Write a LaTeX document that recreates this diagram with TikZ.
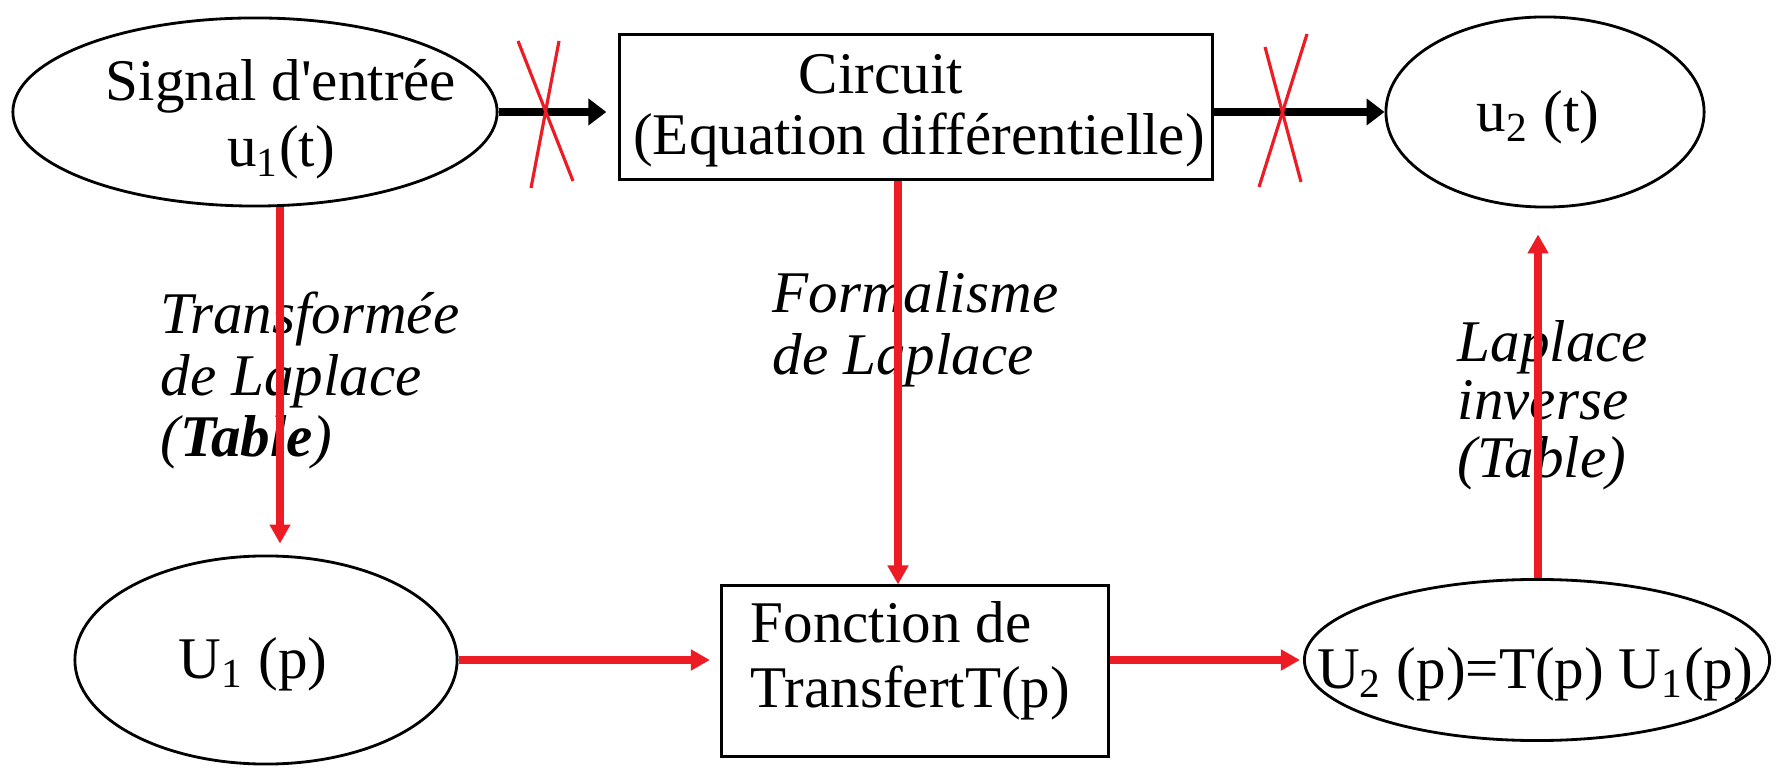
\documentclass[tikz,border=0pt]{standalone}
\usepackage{fontspec}
\setmainfont{Liberation Serif}
\usetikzlibrary{shapes.geometric,arrows.meta}
\definecolor{flowred}{RGB}{237,28,36}
\tikzset{
  bubble/.style={draw,ellipse,line width=0.8pt,inner sep=0pt},
  block/.style={draw,rectangle,line width=0.85pt,inner sep=0pt},
  txt/.style={inner sep=0pt,align=center,font=\fontsize{16.8}{17.6}\selectfont},
  lbl/.style={inner sep=0pt,align=left,anchor=base west,font=\fontsize{16.8}{17.6}\selectfont\itshape},
  blackarrow/.style={line width=2.3pt,-{Triangle[length=0.18cm,width=0.26cm]}},
  redarrow/.style={flowred,line width=2.1pt,-{Triangle[length=0.19cm,width=0.2cm]}},
  strike/.style={flowred,line width=0.9pt},
}
\begin{document}
\begin{tikzpicture}[x=0.01cm,y=-0.01cm]
\useasboundingbox (0,0) rectangle (1780,777);
\node[bubble,minimum width=4.84cm,minimum height=1.88cm] (sig) at (255,112) {};
\node[block,minimum width=5.92cm,minimum height=1.44cm] (circ) at (916,107) {};
\node[bubble,minimum width=3.18cm,minimum height=1.9cm] (u2t) at (1545,112) {};
\node[bubble,minimum width=3.82cm,minimum height=2.08cm] (U1p) at (266,660) {};
\node[block,minimum width=3.87cm,minimum height=1.7cm] (fct) at (915,671) {};
\node[bubble,minimum width=4.65cm,minimum height=1.61cm] (U2p) at (1537,660) {};

\node[txt,anchor=base,font=\fontsize{16.8}{19}\selectfont] (sigtxt) at (281,167) {Signal d\textquotesingle entrée\\u\textsubscript{1}(t)};
\node[txt,anchor=base] (circtxt) at (919,155) {Circuit\hspace*{0.76cm}\\(Equation différentielle)};
\node[txt,anchor=base] (u2ttxt) at (1538,132) {u\textsubscript{2} (t)};
\node[txt,anchor=base] (U1ptxt) at (253,678) {U\textsubscript{1} (p)};
\node[txt,anchor=base west,align=left,font=\fontsize{16.8}{18.2}\selectfont] (fcttxt) at (750,707) {Fonction de\\TransfertT(p)};
\node[txt,anchor=base] (U2ptxt) at (1535,688) {U\textsubscript{2} (p)=T(p) U\textsubscript{1}(p)};

\node[lbl] (tfl) at (160,457) {Transformée\\de Laplace\\(\textbf{Table})};
\node[lbl,font=\fontsize{16.8}{17.9}\selectfont\itshape] (fml) at (772,375) {Formalisme\\de Laplace};
\node[lbl,font=\fontsize{16.8}{16.6}\selectfont\itshape] (inv) at (1457,478) {Laplace\\inverse\\(Table)};

\draw[blackarrow,shorten >=0.12cm] (sig.east) -- (circ.west |- sig.east);
\draw[blackarrow] (circ.east |- sig.east) -- (u2t.west |- sig.east);

\coordinate (x1) at (547,110);
\coordinate (x2) at (1282,110);
\draw[strike] (x1) ++(-29,-69) -- ++(55,140);
\draw[strike] (x1) ++(12,-69) -- ++(-28,147);
\draw[strike] (x2) ++(-17,-63) -- ++(36,135);
\draw[strike] (x2) ++(25,-76) -- ++(-48,153);

\coordinate (c1) at (280,0);
\coordinate (c2) at (898,0);
\coordinate (c3) at (1538,0);
\draw[redarrow,shorten >=0.11cm] (c1 |- sig.south) -- (c1 |- U1p.north);
\draw[redarrow] (c2 |- circ.south) -- (c2 |- fct.north);
\draw[redarrow,shorten >=0.26cm] (c3 |- U2p.north) -- (c3 |- u2t.south);
\draw[redarrow,shorten >=0.1cm] (U1p.east) -- (fct.west |- U1p.east);
\draw[redarrow,shorten >=0.03cm] (fct.east |- U1p.east) -- (U2p.west |- U1p.east);
\end{tikzpicture}
\end{document}
